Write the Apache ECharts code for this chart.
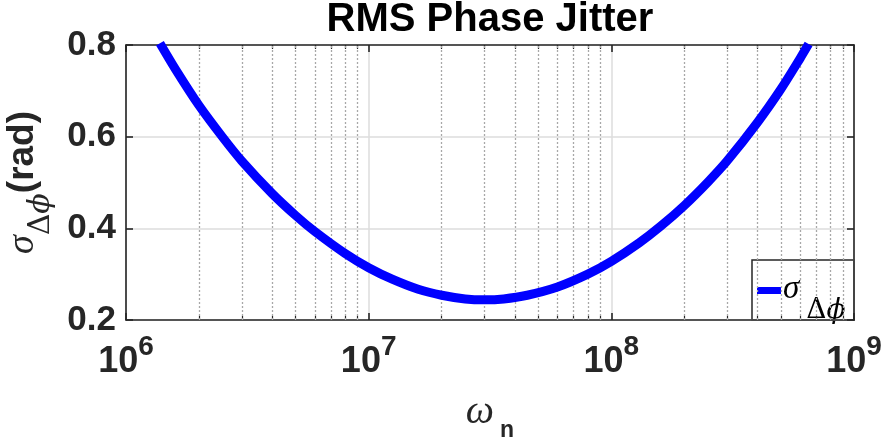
<!DOCTYPE html>
<html>
<head>
<meta charset="utf-8">
<script src="https://cdn.jsdelivr.net/npm/echarts@6/dist/echarts.min.js"></script>
<style>
  html, body { margin: 0; padding: 0; background: #ffffff; }
  #chart { width: 885px; height: 446px; }
</style>
</head>
<body>
<div id="chart"></div>
<script>
// Natural frequency ω_n (rad/s) against RMS phase jitter σ_Δφ (rad)
const omegaN = [1.38e6, 1.6e6, 2e6, 2.5e6, 3e6, 4e6, 5e6, 6e6, 8e6, 1e7,
                1.25e7, 1.6e7, 2e7, 2.5e7, 3e7, 3.6e7, 4.5e7, 6e7, 8e7, 1e8,
                1.3e8, 1.6e8, 2e8, 2.5e8, 3e8, 4e8, 5e8, 6e8, 6.5e8];
const sigmaDeltaPhi = [0.804, 0.747, 0.668, 0.599, 0.547, 0.476, 0.428, 0.393, 0.345, 0.314,
                       0.289, 0.267, 0.254, 0.246, 0.244, 0.246, 0.254, 0.272, 0.300, 0.328,
                       0.368, 0.405, 0.450, 0.501, 0.547, 0.631, 0.704, 0.771, 0.802];

// Axis ticks
const xMajorTicks = [1e6, 1e7, 1e8, 1e9];
const xMinorTicks = [2e6, 3e6, 4e6, 5e6, 6e6, 7e6, 8e6, 9e6,
                     2e7, 3e7, 4e7, 5e7, 6e7, 7e7, 8e7, 9e7,
                     2e8, 3e8, 4e8, 5e8, 6e8, 7e8, 8e8, 9e8];
const yTicks = [0.2, 0.4, 0.6, 0.8];

const chartTitle = 'RMS Phase Jitter';
const seriesName = 'σΔϕ';

const INK = '#262626';
const SANS = 'Liberation Sans, Arial, Helvetica, sans-serif';
const SERIF = 'Liberation Serif, DejaVu Serif, Times New Roman, serif';
const GREEK = 'DejaVu Serif, Liberation Serif, serif';

const chart = echarts.init(document.getElementById('chart'), null, { renderer: 'canvas' });

const axisLineStyle = { color: INK, width: 1.6 };
const xMin = xMajorTicks[0], xMax = xMajorTicks[xMajorTicks.length - 1];
const yMin = yTicks[0], yMax = yTicks[yTicks.length - 1];

function frameXAxis(position) {
  return {
    type: 'log', logBase: 10, min: xMin, max: xMax, position: position,
    axisLine: { show: true, lineStyle: axisLineStyle },
    axisTick: { show: true, inside: true, length: 7, lineStyle: axisLineStyle },
    axisLabel: { show: false },
    splitLine: { show: false },
    minorTick: { show: false }
  };
}

function minorXAxis(position) {
  return {
    type: 'log', logBase: 10, min: xMin, max: xMax, position: position,
    axisLine: { show: false },
    axisTick: { show: true, inside: true, length: 4, customValues: xMinorTicks,
                lineStyle: { color: INK, width: 1.2 } },
    axisLabel: { show: false },
    splitLine: { show: false }
  };
}

const bottomAxis = frameXAxis('bottom');
bottomAxis.splitLine = { show: true, lineStyle: { color: '#dcdcdc', width: 1.5 } };
bottomAxis.axisLabel = {
  show: true,
  margin: 13,
  formatter: function (v) {
    return '{b|10}{e|' + Math.round(Math.log10(v)) + '}';
  },
  rich: {
    b: { fontFamily: SANS, fontWeight: 'bold', fontSize: 36, color: INK, lineHeight: 58 },
    e: { fontFamily: SANS, fontWeight: 'bold', fontSize: 28, color: INK, lineHeight: 27, verticalAlign: 'top' }
  }
};
bottomAxis.name = '{w|ω}{n|n}';
bottomAxis.nameLocation = 'middle';
bottomAxis.nameGap = 72;
bottomAxis.nameTextStyle = {
  rich: {
    w: { fontFamily: SERIF, fontStyle: 'italic', fontSize: 40, color: INK, lineHeight: 44, verticalAlign: 'top' },
    n: { fontFamily: SANS, fontWeight: 'bold', fontSize: 23, color: INK, lineHeight: 78, padding: [0, 0, 0, 6] }
  }
};

const option = {
  animation: false,
  backgroundColor: '#ffffff',
  title: {
    text: chartTitle,
    left: 490,
    textAlign: 'center',
    top: 0,
    padding: 0,
    textStyle: { fontFamily: SANS, fontWeight: 'bold', fontSize: 40, color: '#000000' }
  },
  grid: { left: 126, right: 31, top: 45, bottom: 126, containLabel: false, outerBoundsMode: 'none' },
  xAxis: [bottomAxis, frameXAxis('top'), minorXAxis('bottom'), minorXAxis('top')],
  yAxis: [
    {
      type: 'value', min: yMin, max: yMax, interval: 0.2, position: 'left',
      axisLine: { show: true, lineStyle: axisLineStyle },
      axisTick: { show: true, inside: true, length: 7, lineStyle: axisLineStyle },
      axisLabel: {
        margin: 10, fontFamily: SANS, fontWeight: 'bold', fontSize: 35, color: INK,
        formatter: function (v) { return v.toFixed(1); }
      },
      splitLine: { show: true, lineStyle: { color: '#dcdcdc', width: 1.5 } },
      name: '{s|σ}{d|Δ}{p|ϕ}{r|(rad)}',
      nameLocation: 'middle',
      nameRotate: 90,
      nameGap: 40,
      nameTextStyle: {
        rich: {
          s: { fontFamily: SERIF, fontStyle: 'italic', fontSize: 38, color: INK, lineHeight: 38, verticalAlign: 'top' },
          d: { fontFamily: GREEK, fontSize: 30, color: INK, lineHeight: 74 },
          p: { fontFamily: GREEK, fontStyle: 'italic', fontSize: 30, color: INK, lineHeight: 74 },
          r: { fontFamily: SANS, fontWeight: 'bold', fontSize: 37, color: INK, lineHeight: 38, verticalAlign: 'top' }
        }
      }
    },
    {
      type: 'value', min: yMin, max: yMax, interval: 0.2, position: 'right',
      axisLine: { show: true, lineStyle: axisLineStyle },
      axisTick: { show: true, inside: true, length: 7, lineStyle: axisLineStyle },
      axisLabel: { show: false },
      splitLine: { show: false }
    }
  ],
  series: [
    {
      // dotted minor grid at 2..9 within each decade
      type: 'line',
      name: 'minor-grid',
      xAxisIndex: 0, yAxisIndex: 0,
      data: [],
      z: 1,
      silent: true,
      markLine: {
        z: 1,
        silent: true,
        symbol: ['none', 'none'],
        label: { show: false },
        animation: false,
        lineStyle: { color: '#a8a8a8', width: 1.3, type: [2, 2] },
        emphasis: { disabled: true },
        data: xMinorTicks.map(function (v) { return { xAxis: v }; })
      }
    },
    {
      type: 'line',
      name: seriesName,
      xAxisIndex: 0, yAxisIndex: 0,
      z: 3,
      data: omegaN.map(function (w, i) { return [w, sigmaDeltaPhi[i]]; }),
      showSymbol: false,
      symbol: 'none',
      smooth: 0.3,
      clip: true,
      lineStyle: { color: '#0000ff', width: 9, cap: 'butt' }
    }
  ],
  graphic: [
    {
      type: 'group',
      z: 100,
      children: [
        {
          type: 'rect',
          shape: { x: 752, y: 260, width: 102, height: 60 },
          style: { fill: '#ffffff', stroke: INK, lineWidth: 1.5 }
        },
        {
          type: 'rect',
          shape: { x: 757, y: 287, width: 24, height: 7 },
          style: { fill: '#0000ff' }
        },
        {
          type: 'text',
          x: 783, y: 273,
          style: {
            text: '{s|σ}{d|Δ}{p|ϕ}',
            rich: {
              s: { fontFamily: SERIF, fontStyle: 'italic', fontSize: 33, fill: '#000', lineHeight: 33, verticalAlign: 'top' },
              d: { fontFamily: GREEK, fontSize: 28, fill: '#000', lineHeight: 76, padding: [0, 0, 0, 7] },
              p: { fontFamily: GREEK, fontStyle: 'italic', fontSize: 28, fill: '#000', lineHeight: 76 }
            },
            verticalAlign: 'top'
          }
        }
      ]
    }
  ]
};

chart.setOption(option);
</script>
</body>
</html>
